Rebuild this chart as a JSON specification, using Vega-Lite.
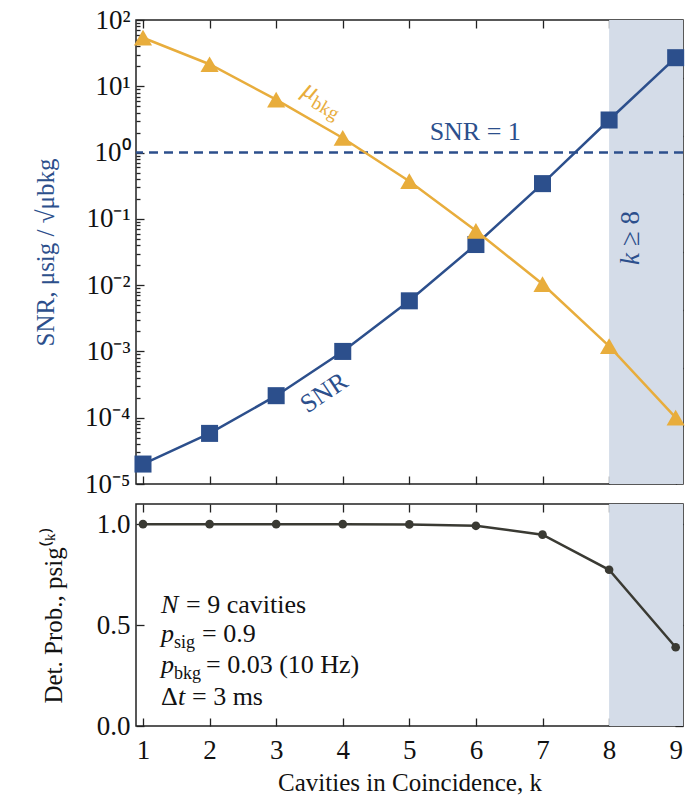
{
  "$schema": "https://vega.github.io/schema/vega-lite/v6.json",
  "background": "white",
  "padding": {"left": 32, "top": 5, "right": 5, "bottom": 5},
  "data": {"values": [
    {"k": 1, "snr": 0.00002, "mubkg": 54, "pdet": 1.0},
    {"k": 2, "snr": 0.000058, "mubkg": 21.5, "pdet": 1.0},
    {"k": 3, "snr": 0.000215, "mubkg": 6.3, "pdet": 1.0},
    {"k": 4, "snr": 0.001, "mubkg": 1.66, "pdet": 1.0},
    {"k": 5, "snr": 0.0058, "mubkg": 0.37, "pdet": 0.999},
    {"k": 6, "snr": 0.041, "mubkg": 0.066, "pdet": 0.992},
    {"k": 7, "snr": 0.34, "mubkg": 0.0104, "pdet": 0.948},
    {"k": 8, "snr": 3.1, "mubkg": 0.0012, "pdet": 0.774},
    {"k": 9, "snr": 27, "mubkg": 0.0001, "pdet": 0.39}
  ]},
  "bounds": "flush",
  "vconcat": [
    {
      "width": 547,
      "height": 464,
      "layer": [
        {
          "data": {"values": [{}]},
          "mark": {"type": "rect", "color": "#d4dce8"},
          "encoding": {
            "x": {"datum": 8, "type": "quantitative", "scale": {"domain": [0.895, 9.11], "nice": false, "zero": false}, "axis": null},
            "x2": {"datum": 9.11}
          }
        },
        {
          "data": {"values": [{}]},
          "mark": {"type": "rule", "color": "#2c4f8c", "strokeDash": [9, 6], "strokeWidth": 2.5},
          "encoding": {
            "y": {"datum": 1, "type": "quantitative", "scale": {"type": "log", "domain": [0.00001, 100], "nice": false}, "axis": null}
          }
        },
        {
          "mark": {"type": "line", "color": "#2c4f8c", "strokeWidth": 2.5},
          "encoding": {
            "x": {"field": "k", "type": "quantitative", "scale": {"domain": [0.895, 9.11], "nice": false, "zero": false},
              "axis": {"orient": "bottom", "values": [1,2,3,4,5,6,7,8,9], "labels": false, "tickSize": -8, "title": null}},
            "y": {"field": "snr", "type": "quantitative", "scale": {"type": "log", "domain": [0.00001, 100], "nice": false},
              "axis": {"orient": "left", "title": "SNR, μsig / √μbkg", "titleColor": "#2c4f8c", "titlePadding": 26,
                "values": [0.00001,0.00002,0.00003,0.00004,0.00005,0.00006,0.00007,0.00008,0.00009,
                  0.0001,0.0002,0.0003,0.0004,0.0005,0.0006,0.0007,0.0008,0.0009,
                  0.001,0.002,0.003,0.004,0.005,0.006,0.007,0.008,0.009,
                  0.01,0.02,0.03,0.04,0.05,0.06,0.07,0.08,0.09,
                  0.1,0.2,0.3,0.4,0.5,0.6,0.7,0.8,0.9,
                  1,2,3,4,5,6,7,8,9,
                  10,20,30,40,50,60,70,80,90,100],
                "tickSize": {"condition": {"test": "abs(log(datum.value)/LN10 - round(log(datum.value)/LN10)) < 0.01", "value": -8}, "value": -4},
                "labelPadding": 14,
                "labelExpr": "datum.value==100?'10²':datum.value==10?'10¹':datum.value==1?'10⁰':datum.value==0.1?'10⁻¹':datum.value==0.01?'10⁻²':datum.value==0.001?'10⁻³':datum.value==0.0001?'10⁻⁴':datum.value==0.00001?'10⁻⁵':''"}}
          }
        },
        {
          "mark": {"type": "point", "shape": "square", "filled": true, "opacity": 1, "size": 290, "color": "#2c4f8c"},
          "encoding": {
            "x": {"field": "k", "type": "quantitative", "axis": null},
            "y": {"field": "snr", "type": "quantitative", "axis": null}
          }
        },
        {
          "mark": {"type": "line", "color": "#e8ad3c", "strokeWidth": 2.5},
          "encoding": {
            "x": {"field": "k", "type": "quantitative", "axis": {"orient": "top", "values": [1,2,3,4,5,6,7,8,9], "labels": false, "tickSize": -8, "title": null}},
            "y": {"field": "mubkg", "type": "quantitative", "axis": {"orient": "right", "labels": false, "tickSize": -8, "title": null,
              "values": [13.335, 1.7783, 0.23714, 0.031623, 0.004217, 0.00056234, 0.000074989]}}
          }
        },
        {
          "mark": {"type": "point", "shape": "triangle-up", "filled": true, "opacity": 1, "size": 330, "color": "#e8ad3c"},
          "encoding": {
            "x": {"field": "k", "type": "quantitative", "axis": null},
            "y": {"field": "mubkg", "type": "quantitative", "axis": null}
          }
        },
        {
          "data": {"values": [{}]},
          "mark": {"type": "text", "text": "SNR = 1", "color": "#2c4f8c", "fontSize": 26, "align": "center", "baseline": "middle"},
          "encoding": {"x": {"datum": 5.99, "type": "quantitative", "axis": null}, "y": {"datum": 2.05, "type": "quantitative", "axis": null}}
        },
        {
          "data": {"values": [{}]},
          "mark": {"type": "text", "text": "SNR", "color": "#2c4f8c", "fontSize": 26, "align": "center", "baseline": "middle", "angle": 326},
          "encoding": {"x": {"datum": 3.72, "type": "quantitative", "axis": null}, "y": {"datum": 0.000237, "type": "quantitative", "axis": null}}
        },
        {
          "data": {"values": [{}]},
          "mark": {"type": "text", "text": "μ", "color": "#e8ad3c", "fontSize": 27, "fontStyle": "italic", "align": "left", "baseline": "alphabetic", "angle": 30},
          "encoding": {"x": {"datum": 3.37, "type": "quantitative", "axis": null}, "y": {"datum": 7.65, "type": "quantitative", "axis": null}}
        },
        {
          "data": {"values": [{}]},
          "mark": {"type": "text", "text": "bkg", "color": "#e8ad3c", "fontSize": 19, "align": "left", "baseline": "alphabetic", "angle": 30, "dx": 14, "dy": 6},
          "encoding": {"x": {"datum": 3.37, "type": "quantitative", "axis": null}, "y": {"datum": 7.65, "type": "quantitative", "axis": null}}
        },
        {
          "data": {"values": [{}]},
          "mark": {"type": "text", "text": "k", "color": "#2c4f8c", "fontSize": 27, "fontStyle": "italic", "align": "left", "baseline": "middle", "angle": 270, "dx": -27},
          "encoding": {"x": {"datum": 8.33, "type": "quantitative", "axis": null}, "y": {"datum": 0.0515, "type": "quantitative", "axis": null}}
        },
        {
          "data": {"values": [{}]},
          "mark": {"type": "text", "text": "≥ 8", "color": "#2c4f8c", "fontSize": 27, "align": "left", "baseline": "middle", "angle": 270, "dx": -8},
          "encoding": {"x": {"datum": 8.33, "type": "quantitative", "axis": null}, "y": {"datum": 0.0515, "type": "quantitative", "axis": null}}
        }
      ],
      "resolve": {"axis": {"x": "independent", "y": "independent"}}
    },
    {
      "width": 547,
      "height": 222,
      "layer": [
        {
          "data": {"values": [{}]},
          "mark": {"type": "rect", "color": "#d4dce8"},
          "encoding": {
            "x": {"datum": 8, "type": "quantitative", "scale": {"domain": [0.895, 9.11], "nice": false, "zero": false}, "axis": null},
            "x2": {"datum": 9.11}
          }
        },
        {
          "mark": {"type": "line", "color": "#3a3a33", "strokeWidth": 2.5},
          "encoding": {
            "x": {"field": "k", "type": "quantitative", "scale": {"domain": [0.895, 9.11], "nice": false, "zero": false},
              "axis": {"orient": "bottom", "values": [1,2,3,4,5,6,7,8,9], "tickSize": -8, "labelPadding": 19, "title": "Cavities in Coincidence, k", "titlePadding": 7}},
            "y": {"field": "pdet", "type": "quantitative", "scale": {"domain": [0, 1.1], "nice": false, "zero": true},
              "axis": {"orient": "left", "values": [0, 0.5, 1.0], "format": ".1f", "tickSize": -8, "labelPadding": 14, "title": "Det. Prob., psig⁽ᵏ⁾", "titlePadding": 30}}
          }
        },
        {
          "mark": {"type": "point", "shape": "circle", "filled": true, "opacity": 1, "size": 75, "color": "#3a3a33"},
          "encoding": {
            "x": {"field": "k", "type": "quantitative", "axis": {"orient": "top", "values": [1,2,3,4,5,6,7,8,9], "labels": false, "tickSize": -8, "title": null}},
            "y": {"field": "pdet", "type": "quantitative", "axis": {"orient": "right", "values": [0, 0.5, 1.0], "labels": false, "tickSize": -8, "title": null}}
          }
        },
        {
          "data": {"values": [{}]},
          "mark": {"type": "text", "text": "N", "fontSize": 26, "fontStyle": "italic", "align": "left", "baseline": "alphabetic", "color": "#111"},
          "encoding": {"x": {"datum": 1.27, "type": "quantitative", "axis": null}, "y": {"datum": 0.562, "type": "quantitative", "axis": null}}
        },
        {
          "data": {"values": [{}]},
          "mark": {"type": "text", "text": "= 9 cavities", "fontSize": 26, "align": "left", "baseline": "alphabetic", "color": "#111", "dx": 25},
          "encoding": {"x": {"datum": 1.27, "type": "quantitative", "axis": null}, "y": {"datum": 0.562, "type": "quantitative", "axis": null}}
        },
        {
          "data": {"values": [{}]},
          "mark": {"type": "text", "text": "p", "fontSize": 26, "fontStyle": "italic", "align": "left", "baseline": "alphabetic", "color": "#111"},
          "encoding": {"x": {"datum": 1.27, "type": "quantitative", "axis": null}, "y": {"datum": 0.414, "type": "quantitative", "axis": null}}
        },
        {
          "data": {"values": [{}]},
          "mark": {"type": "text", "text": "sig", "fontSize": 18, "align": "left", "baseline": "alphabetic", "color": "#111", "dx": 13, "dy": 6},
          "encoding": {"x": {"datum": 1.27, "type": "quantitative", "axis": null}, "y": {"datum": 0.414, "type": "quantitative", "axis": null}}
        },
        {
          "data": {"values": [{}]},
          "mark": {"type": "text", "text": "= 0.9", "fontSize": 26, "align": "left", "baseline": "alphabetic", "color": "#111", "dx": 41},
          "encoding": {"x": {"datum": 1.27, "type": "quantitative", "axis": null}, "y": {"datum": 0.414, "type": "quantitative", "axis": null}}
        },
        {
          "data": {"values": [{}]},
          "mark": {"type": "text", "text": "p", "fontSize": 26, "fontStyle": "italic", "align": "left", "baseline": "alphabetic", "color": "#111"},
          "encoding": {"x": {"datum": 1.27, "type": "quantitative", "axis": null}, "y": {"datum": 0.261, "type": "quantitative", "axis": null}}
        },
        {
          "data": {"values": [{}]},
          "mark": {"type": "text", "text": "bkg", "fontSize": 18, "align": "left", "baseline": "alphabetic", "color": "#111", "dx": 13, "dy": 6},
          "encoding": {"x": {"datum": 1.27, "type": "quantitative", "axis": null}, "y": {"datum": 0.261, "type": "quantitative", "axis": null}}
        },
        {
          "data": {"values": [{}]},
          "mark": {"type": "text", "text": "= 0.03 (10 Hz)", "fontSize": 26, "align": "left", "baseline": "alphabetic", "color": "#111", "dx": 45},
          "encoding": {"x": {"datum": 1.27, "type": "quantitative", "axis": null}, "y": {"datum": 0.261, "type": "quantitative", "axis": null}}
        },
        {
          "data": {"values": [{}]},
          "mark": {"type": "text", "text": "Δ", "fontSize": 26, "align": "left", "baseline": "alphabetic", "color": "#111"},
          "encoding": {"x": {"datum": 1.27, "type": "quantitative", "axis": null}, "y": {"datum": 0.102, "type": "quantitative", "axis": null}}
        },
        {
          "data": {"values": [{}]},
          "mark": {"type": "text", "text": "t", "fontSize": 26, "fontStyle": "italic", "align": "left", "baseline": "alphabetic", "color": "#111", "dx": 17},
          "encoding": {"x": {"datum": 1.27, "type": "quantitative", "axis": null}, "y": {"datum": 0.102, "type": "quantitative", "axis": null}}
        },
        {
          "data": {"values": [{}]},
          "mark": {"type": "text", "text": "= 3 ms", "fontSize": 26, "align": "left", "baseline": "alphabetic", "color": "#111", "dx": 31},
          "encoding": {"x": {"datum": 1.27, "type": "quantitative", "axis": null}, "y": {"datum": 0.102, "type": "quantitative", "axis": null}}
        }
      ],
      "resolve": {"axis": {"x": "independent", "y": "independent"}}
    }
  ],
  "spacing": 20,
  "config": {
    "font": "Liberation Serif",
    "view": {"stroke": "#222", "strokeWidth": 1.5},
    "text": {"fontWeight": "normal", "font": "Liberation Serif"},
    "axis": {
      "domain": false,
      "grid": false,
      "tickColor": "#222",
      "tickWidth": 1.3,
      "labelFont": "Liberation Serif",
      "labelFontSize": 27,
      "labelColor": "#111",
      "titleFont": "Liberation Serif",
      "titleFontSize": 25,
      "titleFontWeight": "normal",
      "titleColor": "#111"
    }
  }
}
